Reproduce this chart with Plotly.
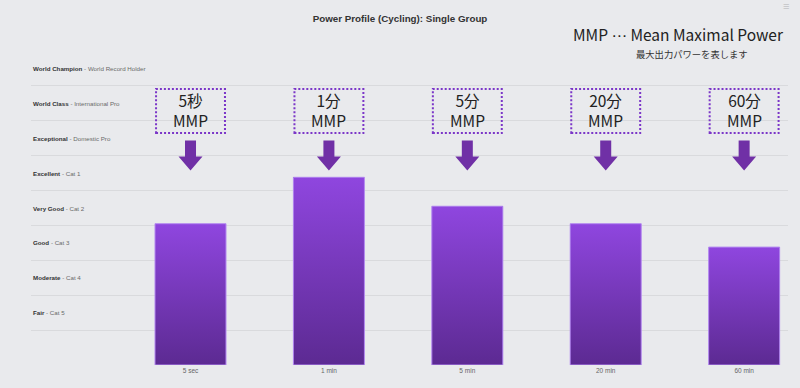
import plotly.graph_objects as go

# ---- data ----
categories = ["5 sec", "1 min", "5 min", "20 min", "60 min"]
values = [4.05, 5.38, 4.55, 4.05, 3.38]          # level on the power-profile scale
box_top = ["5秒", "1分", "5分", "20分", "60分"]
level_names = ["Fair", "Moderate", "Good", "Very Good", "Excellent",
               "Exceptional", "World Class", "World Champion"]
level_desc = ["Cat 5", "Cat 4", "Cat 3", "Cat 2", "Cat 1",
              "Domestic Pro", "International Pro", "World Record Holder"]

BG = "#e9eaed"
FONT = "Liberation Sans, Arial, sans-serif"
JP = "Noto Sans CJK JP, sans-serif"
BAR_W = 0.513

W, H = 800, 388
ML, MR, MT, MB = 31, 12, 51, 23
PW, PH = W - ML - MR, H - MT - MB


def px_x(p):
    return (p - ML) / PW


def px_y(p):
    return (H - MB - p) / PH


fig = go.Figure()

xs = list(range(len(categories)))
fig.add_trace(go.Bar(x=xs, y=values, width=BAR_W, marker=dict(color="#7638bb", line=dict(width=0)),
                     hoverinfo="x+y", showlegend=False))

for i, v in zip(xs, values):
    fig.add_trace(go.Scatter(
        x=[i - BAR_W / 2, i + BAR_W / 2, i + BAR_W / 2, i - BAR_W / 2, i - BAR_W / 2],
        y=[0, 0, v, v, 0],
        mode="lines", fill="toself",
        line=dict(color="#b48af0", width=1),
        fillgradient=dict(type="vertical", colorscale=[[0, "#5c2a92"], [1, "#8f46df"]]),
        hoverinfo="skip", showlegend=False))

# level labels
for k, (n, d) in enumerate(zip(level_names, level_desc)):
    fig.add_annotation(
        x=0, xref="paper", y=k + 1.5, yref="y", xanchor="left", yanchor="middle",
        text=f"<b>{n}</b><span style='color:#6a6a6a'> - {d}</span>",
        showarrow=False, font=dict(family=FONT, size=6.2, color="#333333"))

# boxes + arrows
for i, t in zip(xs, box_top):
    fig.add_shape(type="rect", xref="x", yref="paper",
                  x0=i - 0.249, x1=i + 0.249, y0=px_y(133), y1=px_y(89),
                  line=dict(color="#7b36c8", width=2, dash="2px,2px"), fillcolor="rgba(0,0,0,0)")
    fig.add_annotation(x=i, xref="x", y=px_y(109.5), yref="paper", text=f"{t}<br>MMP",
                       showarrow=False, font=dict(family=JP, size=15.5, color="#222222"),
                       xanchor="center", yanchor="middle")
    fig.add_shape(type="path", xref="x", yref="paper", xsizemode="pixel", ysizemode="pixel",
                  xanchor=i, yanchor=px_y(170.5),
                  path="M 0 0 L -12 14 L -5.5 14 L -5.5 30 L 5.5 30 L 5.5 14 L 12 14 Z",
                  fillcolor="#7030a6", line=dict(width=0))

fig.add_annotation(x=px_x(678), xref="paper", y=px_y(34), yref="paper",
                   text="MMP <span style='font-family:DejaVu Sans'>⋯</span> Mean Maximal Power",
                   showarrow=False, xanchor="center", yanchor="middle",
                   font=dict(family=JP, size=15.5, color="#222222"))
fig.add_annotation(x=px_x(692), xref="paper", y=px_y(54), yref="paper",
                   text="最大出力パワーを表します", showarrow=False,
                   xanchor="center", yanchor="middle",
                   font=dict(family=JP, size=9.3, color="#333333"))
fig.add_annotation(x=px_x(786), xref="paper", y=px_y(6), yref="paper",
                   text="≡", showarrow=False, xanchor="center", yanchor="middle",
                   font=dict(family=FONT, size=11, color="#c2c3c6"))

fig.update_layout(
    width=W, height=H,
    margin=dict(l=ML, r=MR, t=MT, b=MB),
    paper_bgcolor=BG, plot_bgcolor=BG,
    title=dict(text="<b>Power Profile (Cycling): Single Group</b>", x=0.5, xanchor="center",
               y=1 - 19 / H, yanchor="middle", font=dict(family=FONT, size=9.8, color="#333333")),
    xaxis=dict(range=[-1.1525, 4.317], tickvals=xs, ticktext=categories, showgrid=False,
               zeroline=False, showline=False, ticks="",
               tickfont=dict(family=FONT, size=6.5, color="#666666")),
    yaxis=dict(range=[0, 9], tickvals=list(range(9)), showticklabels=False, showgrid=True,
               gridcolor="#d9dadd", gridwidth=1, zeroline=False, showline=False, ticks=""),
    bargap=0, showlegend=False,
)

fig.write_html("out.html", config={"displayModeBar": False},
               post_script="document.body.style.margin='0px';document.body.style.background='#e9eaed';")
